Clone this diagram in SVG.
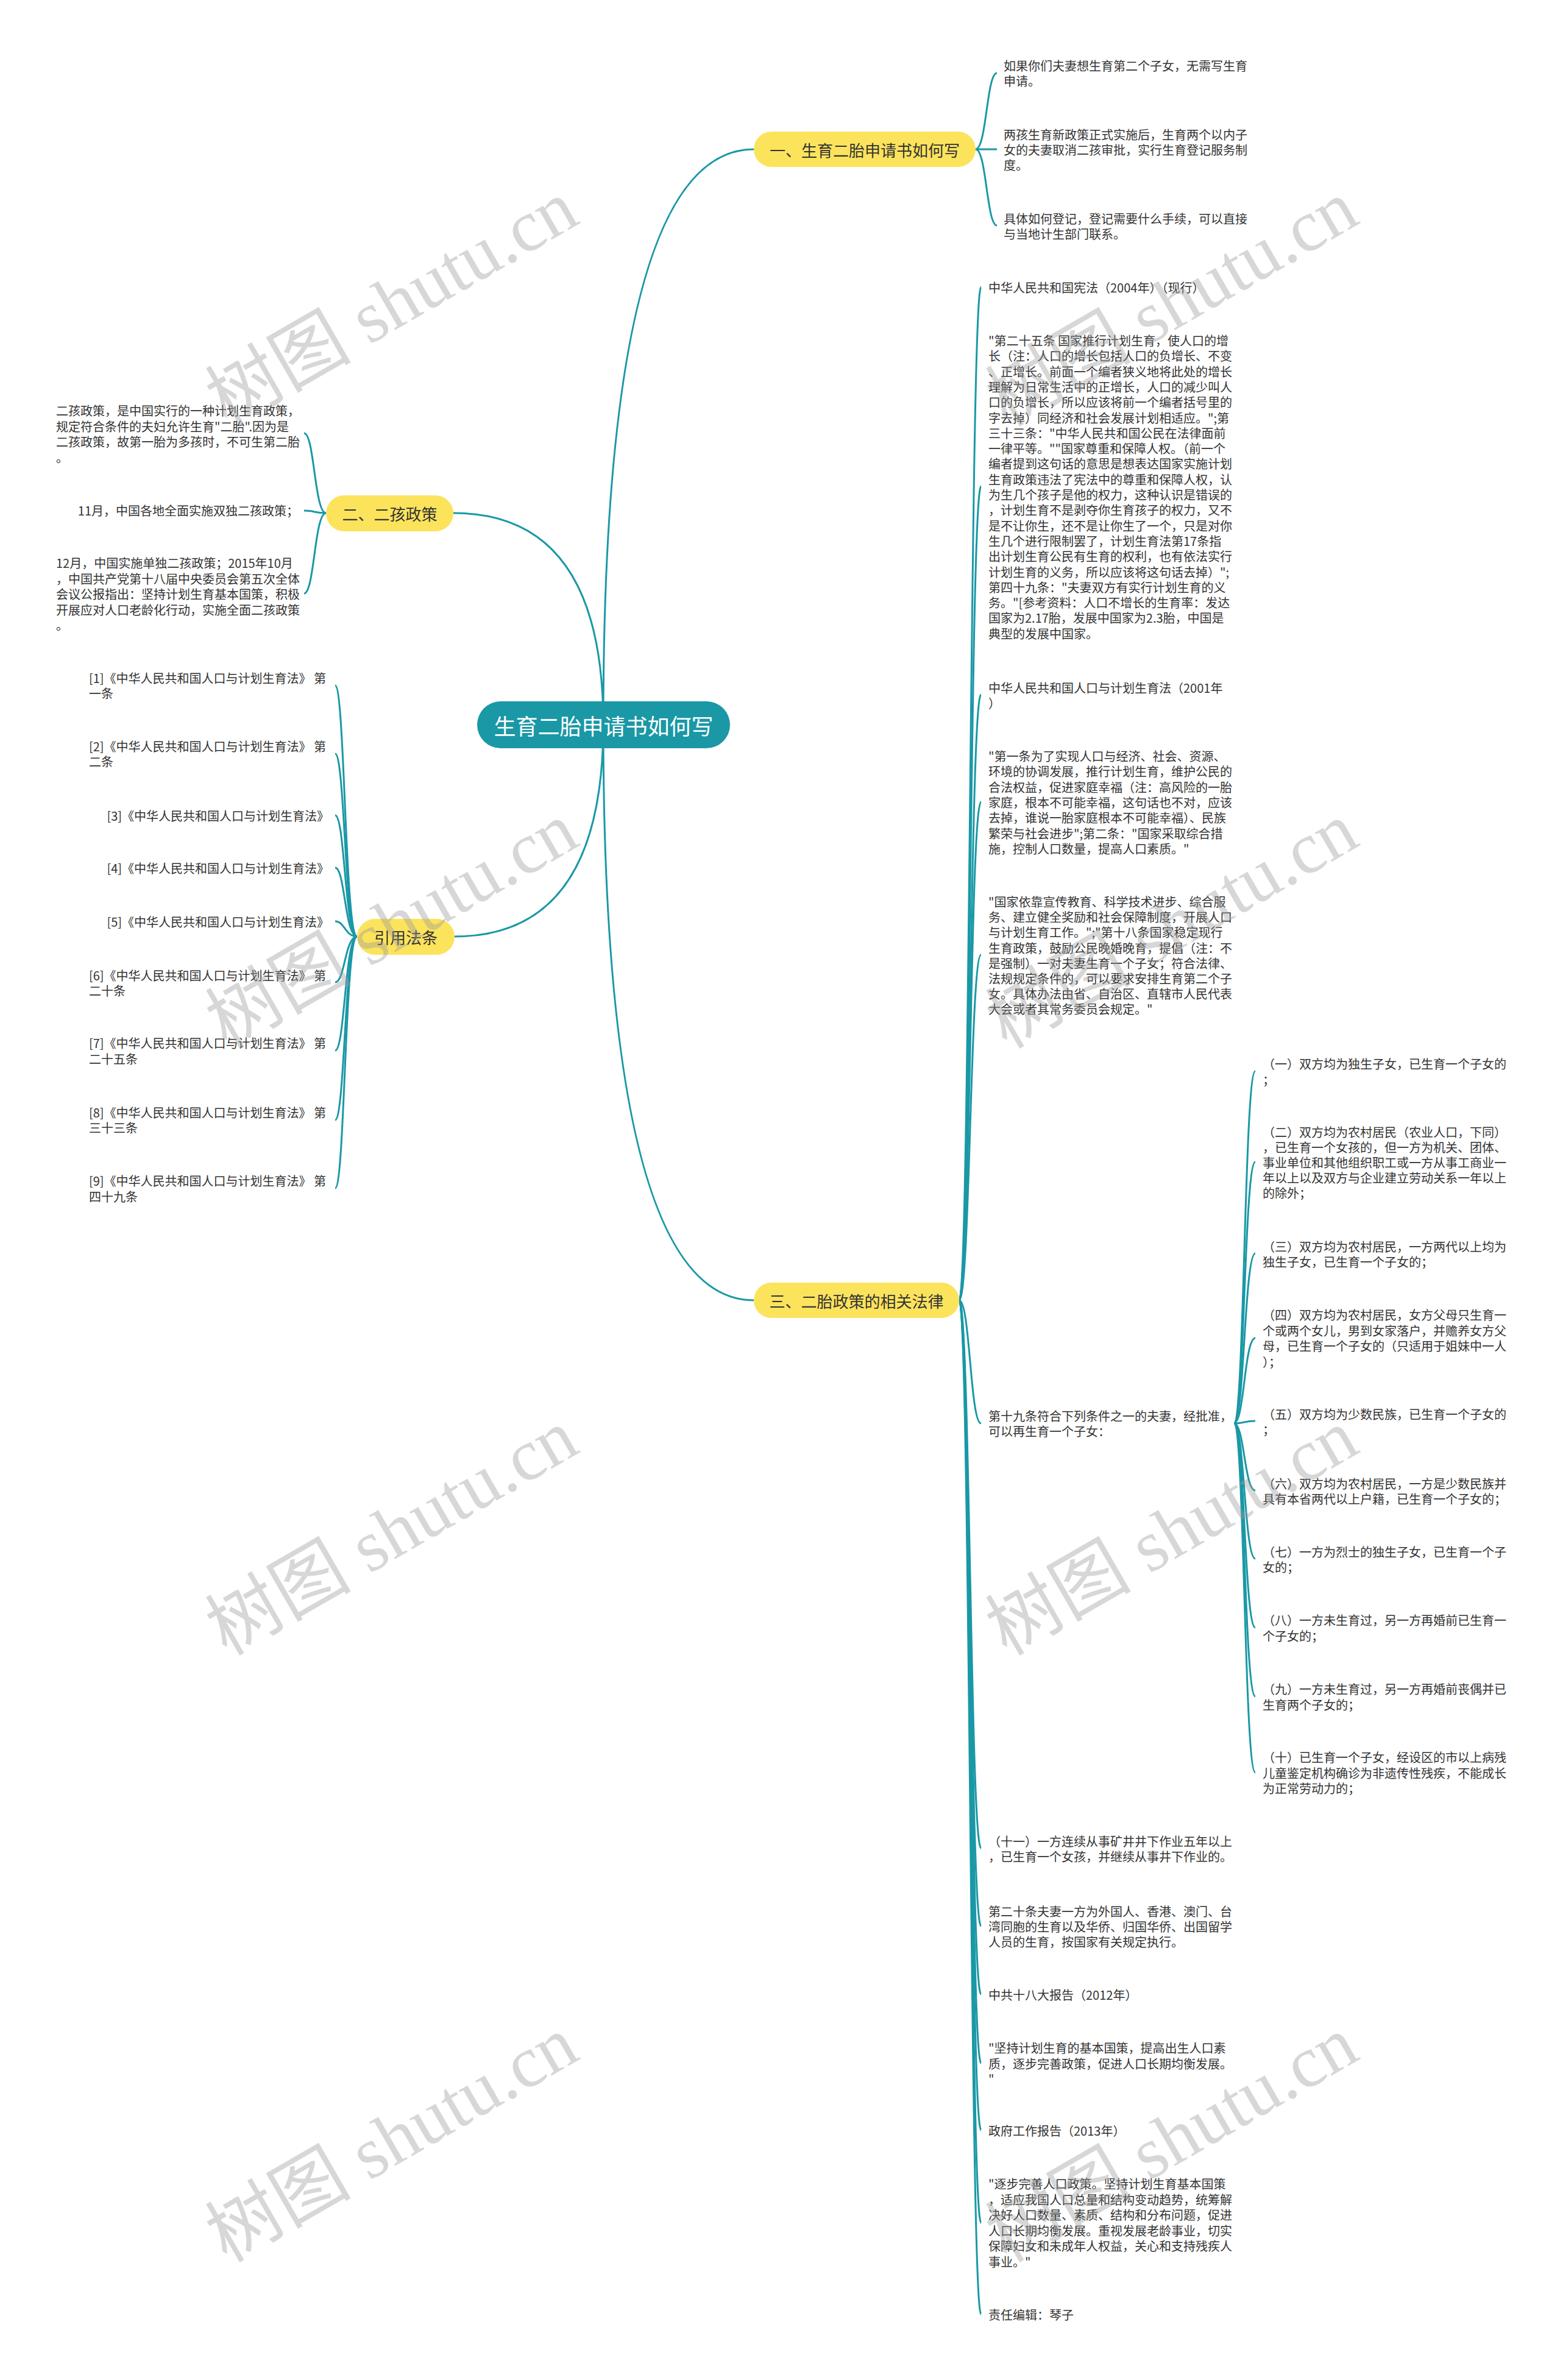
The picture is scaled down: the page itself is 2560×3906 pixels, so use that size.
<svg xmlns="http://www.w3.org/2000/svg" width="2560" height="3906" viewBox="0 0 2560 3906">
<style>
.leaf{font-family:"Noto Sans CJK SC","Liberation Sans",sans-serif;font-size:20px;fill:#333;dominant-baseline:central}
.leaf tspan{dominant-baseline:central}
.end{text-anchor:end}
.brt{font-family:"Noto Sans CJK SC","Liberation Sans",sans-serif;font-size:26px;fill:#333;text-anchor:middle;dominant-baseline:central}
.root{font-family:"Noto Sans CJK SC","Liberation Sans",sans-serif;font-size:36px;fill:#fff;text-anchor:middle;dominant-baseline:central}
.br{fill:#fce35c}
.link{fill:none;stroke:#1a98a6;stroke-width:3}
.wm{font-family:"Liberation Serif","Noto Sans CJK SC",serif;font-size:120px;fill:#9a9a9a;fill-opacity:0.4;text-anchor:middle;dominant-baseline:central}
</style>
<rect width="2560" height="3906" fill="#fff"/>
<g id="connectors">
<path class="link" d="M990 1189 Q990 245 1237 245"/>
<path class="link" d="M990 1189 Q990 842 744 842"/>
<path class="link" d="M990 1189 Q990 1537 746 1537"/>
<path class="link" d="M990 1189 Q990 2134 1237 2134"/>
<path class="link" d="M1601 245 C1619 245 1619 120 1636 120"/>
<path class="link" d="M1601 245 L1636 245"/>
<path class="link" d="M1601 245 C1619 245 1619 370 1636 370"/>
<path class="link" d="M535 842 C516 842 516 711 499 711"/>
<path class="link" d="M535 842 C516 842 516 838 499 838"/>
<path class="link" d="M535 842 C516 842 516 974 499 974"/>
<path class="link" d="M586 1537 C566 1537 566 1125 550 1125"/>
<path class="link" d="M586 1537 C566 1537 566 1237 550 1237"/>
<path class="link" d="M586 1537 C566 1537 566 1338 550 1338"/>
<path class="link" d="M586 1537 C566 1537 566 1424 550 1424"/>
<path class="link" d="M586 1537 C566 1537 566 1512 550 1512"/>
<path class="link" d="M586 1537 C566 1537 566 1612 550 1612"/>
<path class="link" d="M586 1537 C566 1537 566 1724 550 1724"/>
<path class="link" d="M586 1537 C566 1537 566 1838 550 1838"/>
<path class="link" d="M586 1537 C566 1537 566 1950 550 1950"/>
<path class="link" d="M1574 2134 C1592 2134 1592 471 1610 471"/>
<path class="link" d="M1574 2134 C1592 2134 1592 798 1610 798"/>
<path class="link" d="M1574 2134 C1592 2134 1592 1140 1610 1140"/>
<path class="link" d="M1574 2134 C1592 2134 1592 1316 1610 1316"/>
<path class="link" d="M1574 2134 C1592 2134 1592 1567 1610 1567"/>
<path class="link" d="M1574 2134 C1592 2134 1592 2336 1610 2336"/>
<path class="link" d="M1574 2134 C1592 2134 1592 3033 1610 3033"/>
<path class="link" d="M1574 2134 C1592 2134 1592 3161 1610 3161"/>
<path class="link" d="M1574 2134 C1592 2134 1592 3273 1610 3273"/>
<path class="link" d="M1574 2134 C1592 2134 1592 3386 1610 3386"/>
<path class="link" d="M1574 2134 C1592 2134 1592 3496 1610 3496"/>
<path class="link" d="M1574 2134 C1592 2134 1592 3648 1610 3648"/>
<path class="link" d="M1574 2134 C1592 2134 1592 3798 1610 3798"/>
<path class="link" d="M2025 2336 C2042 2336 2042 1758 2060 1758"/>
<path class="link" d="M2025 2336 C2042 2336 2042 1907 2060 1907"/>
<path class="link" d="M2025 2336 C2042 2336 2042 2057 2060 2057"/>
<path class="link" d="M2025 2336 C2042 2336 2042 2196 2060 2196"/>
<path class="link" d="M2025 2336 C2042 2336 2042 2332 2060 2332"/>
<path class="link" d="M2025 2336 C2042 2336 2042 2446 2060 2446"/>
<path class="link" d="M2025 2336 C2042 2336 2042 2558 2060 2558"/>
<path class="link" d="M2025 2336 C2042 2336 2042 2671 2060 2671"/>
<path class="link" d="M2025 2336 C2042 2336 2042 2784 2060 2784"/>
<path class="link" d="M2025 2336 C2042 2336 2042 2909 2060 2909"/>
</g>
<g id="root"><rect x="783" y="1151" width="415" height="77" rx="38.5" fill="#1a98a6"/><text class="root" x="990.5" y="1189.5">生育二胎申请书如何写</text></g>
<g id="b1"><rect class="br" x="1237" y="216" width="364" height="58" rx="29"/><text class="brt" x="1419" y="245">一、生育二胎申请书如何写</text></g>
<g id="b2"><rect class="br" x="535" y="813" width="209" height="59" rx="29.5"/><text class="brt" x="639.5" y="842.5">二、二孩政策</text></g>
<g id="b4"><rect class="br" x="586" y="1508" width="160" height="59" rx="29.5"/><text class="brt" x="666" y="1537.5">引用法条</text></g>
<g id="b3"><rect class="br" x="1237" y="2105" width="337" height="58" rx="29"/><text class="brt" x="1405.5" y="2134">三、二胎政策的相关法律</text></g>
<g id="b1-l1"><text class="leaf"><tspan x="1647" y="107">如果你们夫妻想生育第二个子女，无需写生育</tspan><tspan x="1647" y="132">申请。</tspan></text></g>
<g id="b1-l2"><text class="leaf"><tspan x="1647" y="220">两孩生育新政策正式实施后，生育两个以内子</tspan><tspan x="1647" y="245">女的夫妻取消二孩审批，实行生育登记服务制</tspan><tspan x="1647" y="270">度。</tspan></text></g>
<g id="b1-l3"><text class="leaf"><tspan x="1647" y="358">具体如何登记，登记需要什么手续，可以直接</tspan><tspan x="1647" y="383">与当地计生部门联系。</tspan></text></g>
<g id="b2-l1"><text class="leaf"><tspan x="92" y="673">二孩政策，是中国实行的一种计划生育政策，</tspan><tspan x="92" y="698.5">规定符合条件的夫妇允许生育"二胎".因为是</tspan><tspan x="92" y="724">二孩政策，故第一胎为多孩时，不可生第二胎</tspan><tspan x="92" y="749.5">。</tspan></text></g>
<g id="b2-l2"><text class="leaf end" x="490" y="837">11月，中国各地全面实施双独二孩政策；</text></g>
<g id="b2-l3"><text class="leaf"><tspan x="92" y="923">12月，中国实施单独二孩政策；2015年10月</tspan><tspan x="92" y="948.5">，中国共产党第十八届中央委员会第五次全体</tspan><tspan x="92" y="974">会议公报指出：坚持计划生育基本国策，积极</tspan><tspan x="92" y="999.5">开展应对人口老龄化行动，实施全面二孩政策</tspan><tspan x="92" y="1025">。</tspan></text></g>
<g id="b4-l1"><text class="leaf"><tspan x="146" y="1112">[1]《中华人民共和国人口与计划生育法》 第</tspan><tspan x="146" y="1137">一条</tspan></text></g>
<g id="b4-l2"><text class="leaf"><tspan x="146" y="1224">[2]《中华人民共和国人口与计划生育法》 第</tspan><tspan x="146" y="1249">二条</tspan></text></g>
<g id="b4-l3"><text class="leaf end" x="540" y="1338">[3]《中华人民共和国人口与计划生育法》</text></g>
<g id="b4-l4"><text class="leaf end" x="540" y="1424">[4]《中华人民共和国人口与计划生育法》</text></g>
<g id="b4-l5"><text class="leaf end" x="540" y="1512">[5]《中华人民共和国人口与计划生育法》</text></g>
<g id="b4-l6"><text class="leaf"><tspan x="146" y="1600">[6]《中华人民共和国人口与计划生育法》 第</tspan><tspan x="146" y="1625">二十条</tspan></text></g>
<g id="b4-l7"><text class="leaf"><tspan x="146" y="1711">[7]《中华人民共和国人口与计划生育法》 第</tspan><tspan x="146" y="1737">二十五条</tspan></text></g>
<g id="b4-l8"><text class="leaf"><tspan x="146" y="1825">[8]《中华人民共和国人口与计划生育法》 第</tspan><tspan x="146" y="1850">三十三条</tspan></text></g>
<g id="b4-l9"><text class="leaf"><tspan x="146" y="1937">[9]《中华人民共和国人口与计划生育法》 第</tspan><tspan x="146" y="1963">四十九条</tspan></text></g>
<g id="b3-l1"><text class="leaf" x="1622" y="471">中华人民共和国宪法（2004年）（现行）</text></g>
<g id="b3-l2"><text class="leaf">
<tspan x="1622" y="558">"第二十五条 国家推行计划生育，使人口的增</tspan>
<tspan x="1622" y="583.3">长（注：人口的增长包括人口的负增长、不变</tspan>
<tspan x="1622" y="608.6">、正增长。前面一个编者狭义地将此处的增长</tspan>
<tspan x="1622" y="633.9">理解为日常生活中的正增长，人口的减少叫人</tspan>
<tspan x="1622" y="659.2">口的负增长，所以应该将前一个编者括号里的</tspan>
<tspan x="1622" y="684.5">字去掉）同经济和社会发展计划相适应。";第</tspan>
<tspan x="1622" y="709.8">三十三条："中华人民共和国公民在法律面前</tspan>
<tspan x="1622" y="735.1">一律平等。""国家尊重和保障人权。（前一个</tspan>
<tspan x="1622" y="760.4">编者提到这句话的意思是想表达国家实施计划</tspan>
<tspan x="1622" y="785.7">生育政策违法了宪法中的尊重和保障人权，认</tspan>
<tspan x="1622" y="811">为生几个孩子是他的权力，这种认识是错误的</tspan>
<tspan x="1622" y="836.3">，计划生育不是剥夺你生育孩子的权力，又不</tspan>
<tspan x="1622" y="861.6">是不让你生，还不是让你生了一个，只是对你</tspan>
<tspan x="1622" y="886.9">生几个进行限制罢了，计划生育法第17条指</tspan>
<tspan x="1622" y="912.2">出计划生育公民有生育的权利，也有依法实行</tspan>
<tspan x="1622" y="937.5">计划生育的义务，所以应该将这句话去掉）";</tspan>
<tspan x="1622" y="962.8">第四十九条："夫妻双方有实行计划生育的义</tspan>
<tspan x="1622" y="988.1">务。"[参考资料：人口不增长的生育率：发达</tspan>
<tspan x="1622" y="1013.4">国家为2.17胎，发展中国家为2.3胎，中国是</tspan>
<tspan x="1622" y="1038.7">典型的发展中国家。</tspan>
</text></g>
<g id="b3-l3"><text class="leaf"><tspan x="1622" y="1128">中华人民共和国人口与计划生育法（2001年</tspan><tspan x="1622" y="1153">）</tspan></text></g>
<g id="b3-l4"><text class="leaf">
<tspan x="1622" y="1240">"第一条为了实现人口与经济、社会、资源、</tspan>
<tspan x="1622" y="1265.3">环境的协调发展，推行计划生育，维护公民的</tspan>
<tspan x="1622" y="1290.6">合法权益，促进家庭幸福（注：高风险的一胎</tspan>
<tspan x="1622" y="1315.9">家庭，根本不可能幸福，这句话也不对，应该</tspan>
<tspan x="1622" y="1341.2">去掉，谁说一胎家庭根本不可能幸福）、民族</tspan>
<tspan x="1622" y="1366.5">繁荣与社会进步";第二条："国家采取综合措</tspan>
<tspan x="1622" y="1391.8">施，控制人口数量，提高人口素质。"</tspan>
</text></g>
<g id="b3-l5"><text class="leaf">
<tspan x="1622" y="1479">"国家依靠宣传教育、科学技术进步、综合服</tspan>
<tspan x="1622" y="1504.2">务、建立健全奖励和社会保障制度，开展人口</tspan>
<tspan x="1622" y="1529.4">与计划生育工作。";"第十八条国家稳定现行</tspan>
<tspan x="1622" y="1554.6">生育政策，鼓励公民晚婚晚育，提倡（注：不</tspan>
<tspan x="1622" y="1579.8">是强制）一对夫妻生育一个子女；符合法律、</tspan>
<tspan x="1622" y="1605">法规规定条件的，可以要求安排生育第二个子</tspan>
<tspan x="1622" y="1630.2">女。具体办法由省、自治区、直辖市人民代表</tspan>
<tspan x="1622" y="1655.4">大会或者其常务委员会规定。"</tspan>
</text></g>
<g id="b3-l6"><text class="leaf"><tspan x="1622" y="2323">第十九条符合下列条件之一的夫妻，经批准，</tspan><tspan x="1622" y="2348">可以再生育一个子女：</tspan></text></g>
<g id="c1"><text class="leaf"><tspan x="2072" y="1745">（一）双方均为独生子女，已生育一个子女的</tspan><tspan x="2072" y="1771">；</tspan></text></g>
<g id="c2"><text class="leaf"><tspan x="2072" y="1857">（二）双方均为农村居民（农业人口，下同）</tspan><tspan x="2072" y="1882">，已生育一个女孩的，但一方为机关、团体、</tspan><tspan x="2072" y="1907">事业单位和其他组织职工或一方从事工商业一</tspan><tspan x="2072" y="1932">年以上以及双方与企业建立劳动关系一年以上</tspan><tspan x="2072" y="1957">的除外；</tspan></text></g>
<g id="c3"><text class="leaf"><tspan x="2072" y="2045">（三）双方均为农村居民，一方两代以上均为</tspan><tspan x="2072" y="2070">独生子女，已生育一个子女的；</tspan></text></g>
<g id="c4"><text class="leaf"><tspan x="2072" y="2157">（四）双方均为农村居民，女方父母只生育一</tspan><tspan x="2072" y="2183">个或两个女儿，男到女家落户，并赡养女方父</tspan><tspan x="2072" y="2208">母，已生育一个子女的（只适用于姐妹中一人</tspan><tspan x="2072" y="2234">）；</tspan></text></g>
<g id="c5"><text class="leaf"><tspan x="2072" y="2320">（五）双方均为少数民族，已生育一个子女的</tspan><tspan x="2072" y="2345">；</tspan></text></g>
<g id="c6"><text class="leaf"><tspan x="2072" y="2434">（六）双方均为农村居民，一方是少数民族并</tspan><tspan x="2072" y="2459">具有本省两代以上户籍，已生育一个子女的；</tspan></text></g>
<g id="c7"><text class="leaf"><tspan x="2072" y="2546">（七）一方为烈士的独生子女，已生育一个子</tspan><tspan x="2072" y="2571">女的；</tspan></text></g>
<g id="c8"><text class="leaf"><tspan x="2072" y="2658">（八）一方未生育过，另一方再婚前已生育一</tspan><tspan x="2072" y="2684">个子女的；</tspan></text></g>
<g id="c9"><text class="leaf"><tspan x="2072" y="2771">（九）一方未生育过，另一方再婚前丧偶并已</tspan><tspan x="2072" y="2797">生育两个子女的；</tspan></text></g>
<g id="c10"><text class="leaf"><tspan x="2072" y="2883">（十）已生育一个子女，经设区的市以上病残</tspan><tspan x="2072" y="2909">儿童鉴定机构确诊为非遗传性残疾，不能成长</tspan><tspan x="2072" y="2934">为正常劳动力的；</tspan></text></g>
<g id="b3-l7"><text class="leaf"><tspan x="1622" y="3021">（十一）一方连续从事矿井井下作业五年以上</tspan><tspan x="1622" y="3046">，已生育一个女孩，并继续从事井下作业的。</tspan></text></g>
<g id="b3-l8"><text class="leaf"><tspan x="1622" y="3136">第二十条夫妻一方为外国人、香港、澳门、台</tspan><tspan x="1622" y="3161">湾同胞的生育以及华侨、归国华侨、出国留学</tspan><tspan x="1622" y="3186">人员的生育，按国家有关规定执行。</tspan></text></g>
<g id="b3-l9"><text class="leaf" x="1622" y="3273">中共十八大报告（2012年）</text></g>
<g id="b3-l10"><text class="leaf"><tspan x="1622" y="3360">"坚持计划生育的基本国策，提高出生人口素</tspan><tspan x="1622" y="3386">质，逐步完善政策，促进人口长期均衡发展。</tspan><tspan x="1622" y="3411">"</tspan></text></g>
<g id="b3-l11"><text class="leaf" x="1622" y="3496">政府工作报告（2013年）</text></g>
<g id="b3-l12"><text class="leaf">
<tspan x="1622" y="3583">"逐步完善人口政策。坚持计划生育基本国策</tspan>
<tspan x="1622" y="3608.6">，适应我国人口总量和结构变动趋势，统筹解</tspan>
<tspan x="1622" y="3634.2">决好人口数量、素质、结构和分布问题，促进</tspan>
<tspan x="1622" y="3659.8">人口长期均衡发展。重视发展老龄事业，切实</tspan>
<tspan x="1622" y="3685.4">保障妇女和未成年人权益，关心和支持残疾人</tspan>
<tspan x="1622" y="3711">事业。"</tspan>
</text></g>
<g id="b3-l13"><text class="leaf" x="1622" y="3798">责任编辑：琴子</text></g>
<g id="watermarks">
<text class="wm" transform="translate(643 498) rotate(-30)">树图 shutu.cn</text>
<text class="wm" transform="translate(1923 498) rotate(-30)">树图 shutu.cn</text>
<text class="wm" transform="translate(643 1519) rotate(-30)">树图 shutu.cn</text>
<text class="wm" transform="translate(1923 1519) rotate(-30)">树图 shutu.cn</text>
<text class="wm" transform="translate(643 2515) rotate(-30)">树图 shutu.cn</text>
<text class="wm" transform="translate(1923 2515) rotate(-30)">树图 shutu.cn</text>
<text class="wm" transform="translate(643 3511) rotate(-30)">树图 shutu.cn</text>
<text class="wm" transform="translate(1923 3511) rotate(-30)">树图 shutu.cn</text>
</g>
</svg>
